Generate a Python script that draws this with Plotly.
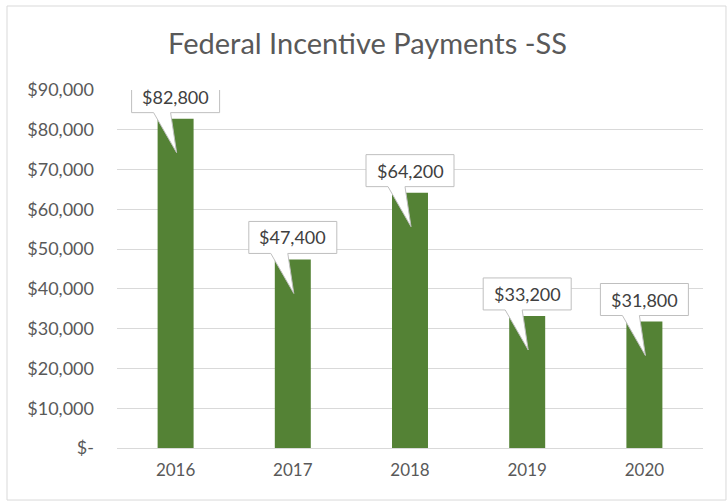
import plotly.graph_objects as go

years = ["2016", "2017", "2018", "2019", "2020"]
payments = [82800, 47400, 64200, 33200, 31800]
y_tick_vals = [0, 10000, 20000, 30000, 40000, 50000, 60000, 70000, 80000, 90000]
y_tick_text = ["$-", "$10,000", "$20,000", "$30,000", "$40,000", "$50,000",
               "$60,000", "$70,000", "$80,000", "$90,000"]
title_text = "Federal Incentive Payments -SS"

BAR = "#548235"
GREY = "#595959"
FONT = "Lato"

x_idx = list(range(len(years)))

fig = go.Figure()
fig.add_trace(go.Bar(x=x_idx, y=payments, marker=dict(color=BAR, line=dict(width=0)),
                     width=0.307, hoverinfo="skip"))

# callout path (pixels relative to bar centre / bar top, y up)
callout = ("M -44 6 L -22 6 L 1 -34 L -5 6 L 44 6 L 44 38 L -44 38 Z")

shapes = []
annotations = []
for i, v in zip(x_idx, payments):
    shapes.append(dict(type="path", xref="x", yref="y", xsizemode="pixel", ysizemode="pixel",
                       xanchor=i, yanchor=v, path=callout,
                       fillcolor="white", line=dict(color="#bfbfbf", width=1), layer="above"))
    label = "${:,}".format(v)
    annotations.append(dict(x=i, y=v, xref="x", yref="y", text=label, showarrow=False,
                            yshift=22, font=dict(family=FONT, size=18, color="#404040")))

# outer chart border
shapes.append(dict(type="rect", xref="paper", yref="paper",
                   x0=-0.1877, x1=1.0392, y0=-0.1453, y1=1.2346,
                   line=dict(color="#d9d9d9", width=1), fillcolor="rgba(0,0,0,0)", layer="below"))

fig.update_layout(
    width=728, height=502,
    margin=dict(l=117, r=25, t=90, b=54),
    paper_bgcolor="white", plot_bgcolor="white",
    showlegend=False,
    title=dict(text=title_text, x=367.5 / 728, xanchor="center", y=1 - 44 / 502, yanchor="middle",
               font=dict(family=FONT, size=29, color=GREY)),
    xaxis=dict(tickvals=x_idx, ticktext=years, range=[-0.5, 4.5], showgrid=False,
               zeroline=False, showline=False, ticks="", ticklabelstandoff=10,
               tickfont=dict(family=FONT, size=17, color=GREY)),
    yaxis=dict(range=[0, 90000], tickvals=y_tick_vals, ticktext=y_tick_text,
               showgrid=True, gridcolor="#d9d9d9", gridwidth=1, zeroline=True,
               zerolinecolor="#d9d9d9", zerolinewidth=1,
               showline=False, ticks="", ticklabelstandoff=22,
               tickfont=dict(family=FONT, size=18, color=GREY)),
    shapes=shapes, annotations=annotations,
)

fig.write_html("out.html", config={"displayModeBar": False},
               post_script="document.body.style.margin='0';")
